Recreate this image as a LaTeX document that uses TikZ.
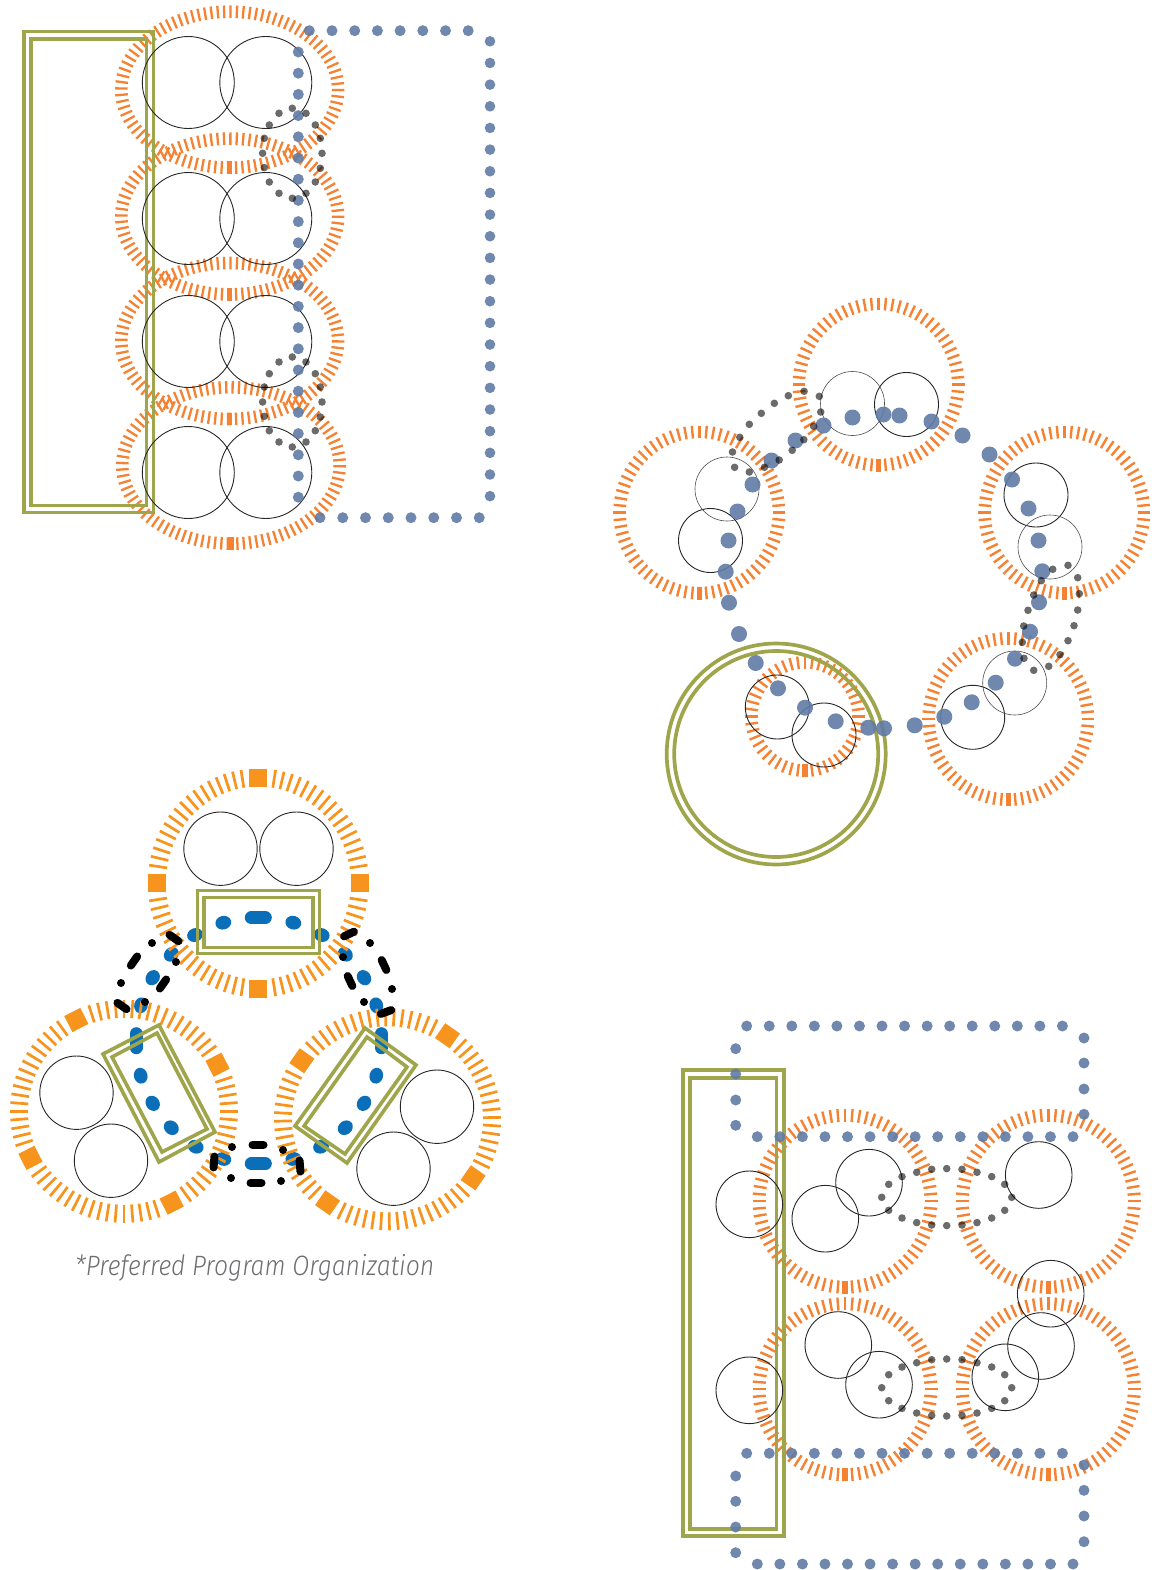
\documentclass[tikz,border=0pt]{standalone}
\usepackage{fontspec}
\usetikzlibrary{decorations.pathreplacing}
\newfontfamily\capfont[ItalicFont={Fira Sans Light Italic}]{Fira Sans Light}
\definecolor{ringor}{HTML}{F58233}
\definecolor{ringam}{HTML}{F7941E}
\definecolor{olive}{HTML}{9FA54A}
\definecolor{slate}{HTML}{607BA5}
\definecolor{bluedash}{HTML}{0A6FB8}
\definecolor{captiongray}{HTML}{6D6E71}
\tikzset{
  wire/.style={draw=black!85,line width=.9pt},
  lightwire/.style={draw=black!70,line width=.6pt},
  dbl/.style={draw=olive,line width=3.7pt},
  dblr/.style={draw=olive,line width=3.6pt,line join=miter},
  slatedot/.style={fill=slate,opacity=.9},
  graydot/.style={fill=black,opacity=.58},
  blackdash/.style={line width=8pt,line cap=round,draw=black},
  bluebar/.style={line width=13pt,line cap=round,draw=bluedash}
}
% circular tick ring: cx cy rx ry len n colour
\newcommand\ringC[7]{%
  \foreach \i in {1,...,#6}{%
    \pgfmathsetmacro\a{90+\i*(360/#6)}%
    \draw[#7,line width=2.4pt] ({#1+(#3-#5)*cos(\a)},{#2+(#4-#5)*sin(\a)}) -- ({#1+#3*cos(\a)},{#2+#4*sin(\a)});
  }%
  \draw[#7,line width=5.5pt] (#1,#2+#4-#5) -- (#1,#2+#4);
}
% elliptical ring, ticks evenly spaced along the curve
\newcommand\ringE[4]{%
  \draw[ringor,line width=2.3pt,shift={(#1,#2)},rotate=-90,decorate,decoration={ticks,segment length=6.39pt,amplitude=6.3pt}]
    (0,0) ellipse [x radius=#4pt-6.3pt,y radius=#3pt-6.3pt];
  \draw[ringor,line width=5.5pt] (#1,#2+#4-12.6) -- (#1,#2+#4);
}
% amber ring with four squares: cx cy rx ry offset
\newcommand\ringS[5]{%
  \foreach \i in {0,...,79}{%
    \pgfmathsetmacro\a{#5+\i*4.5}%
    \pgfmathtruncatemacro\m{mod(\i,20)}%
    \ifnum\m=0
      \draw[ringam,line width=18pt] ({#1+(#3-18)*cos(\a)},{#2+(#4-18)*sin(\a)}) -- ({#1+#3*cos(\a)},{#2+#4*sin(\a)});
    \else\ifnum\m=1 \else\ifnum\m=19 \else
      \draw[ringam,line width=2.7pt] ({#1+(#3-18)*cos(\a)},{#2+(#4-18)*sin(\a)}) -- ({#1+#3*cos(\a)},{#2+#4*sin(\a)});
    \fi\fi\fi
  }%
}
\newcommand\bdot[2]{\fill[black] (#1,#2) circle (4pt);}
\newcommand\bdash[3]{\draw[blackdash,shift={(#1,#2)},rotate=#3] (-5.5,0) -- (5.5,0);}
\newcommand\bluee[3]{\fill[bluedash,shift={(#1,#2)},rotate=#3] (0,0) ellipse [x radius=8pt,y radius=6.8pt];}
\newcommand\bluebarr[3]{\draw[bluebar,shift={(#1,#2)},rotate=#3] (-7,0) -- (7,0);}
\begin{document}
\begin{tikzpicture}[x=1pt,y=-1pt]
\useasboundingbox (0,0) rectangle (1151,1570);
%%%%%%%%%% PANEL 1
\ringE{229.7}{89.7}{114.7}{84.3}
\ringE{229.7}{216.5}{114.7}{84.2}
\ringE{229.7}{341}{114.7}{84.3}
\ringE{231}{465.5}{115}{84.5}
\draw[dblr] (23.7,31.7) rectangle (153.3,512.3);
\draw[dblr] (31,39.3) rectangle (146.3,505.3);
\foreach \y in {82.5,218.5,341.5,472.5}{
  \draw[wire] (188.3,\y) circle (46pt);
  \draw[wire] (265.8,\y) circle (46pt);
}
\foreach \i in {0,...,7} \fill[slatedot] ({309.3+22.7*\i},30.7) circle (5.5pt);
\foreach \i in {0,...,21} \fill[slatedot] (490,{41.3+21.66*\i}) circle (5.3pt);
\foreach \i in {0,...,7} \fill[slatedot] ({320+22.75*\i},517.7) circle (5.5pt);
\foreach \i in {0,...,21} \fill[slatedot] (298.3,{52+21.2*\i}) circle (5.5pt);
\foreach \cy in {153.3,402}{
  \foreach \dx/\dy in {-13.3/-40,0/-45,13.7/-40,23/-28.3,28/-15,29.7/0,28/15,23/28.7,13.7/40,0/45,-13.3/40,-23/28.7,-28/14.3,-29.7/0,-28/-15,-23/-28.3}
    \fill[graydot] ({292.3+\dx},{\cy+\dy}) circle (3.8pt);
}
%%%%%%%%%% PANEL 2
\ringC{878.5}{384.5}{86}{87}{12.7}{72}{ringor}
\ringC{1064.3}{512.5}{86}{87}{12.7}{72}{ringor}
\ringC{1008.3}{719}{86}{87}{12.7}{72}{ringor}
\ringC{699.3}{512.5}{86}{87}{12.7}{72}{ringor}
\ringC{805}{716.5}{60}{60.5}{12.7}{48}{ringor}
\draw[dbl] (776.2,754) ellipse [x radius=109.5pt,y radius=110.5pt];
\draw[dbl] (776.2,754) ellipse [x radius=102pt,y radius=103pt];
\foreach \x/\y in {906.5/404.5,710.5/540.5,1036/495,777.3/707,824/735,972.7/717.3}
  \draw[wire] (\x,\y) circle (32pt);
\foreach \x/\y in {852.5/403.5,727/489,1050/547,1014.7/683}
  \draw[lightwire] (\x,\y) circle (32pt);
\foreach \x/\y in {823.5/425.5,852.5/417.5,883.5/414.5,899.5/415.5,931.5/421.5,962.5/435.5,989.5/454.5,1012/479.5,1028.5/508.5,1038.5/540.5,1042.3/571.3,1039/602.3,1030/631.7,1015/658.7,995.7/682.7,971.7/702.3,944.3/716.7,914.7/725.3,884/728.3,868.3/727.7,835.7/721.3,805/707.7,778/688.3,755.7/663,739/634,729/602.7,725.7/571.7,728.5/540.5,737.5/511.5,752.5/484.5,771.5/460.5,795.5/440.5}
  \fill[slatedot] (\x,\y) circle (8pt);
\foreach \x/\y in {804.1/391.3,788.3/395.7,774.3/403.3,761.3/413.3,749.3/424.3,739.8/437.3,732.5/452,734.6/467.3,749.3/472,764.4/467.3,779.2/460,792.2/450.3,803.8/439.7,813.6/426.3,820.7/412,819.3/396.3,
 1052.7/569.3,1068/565.3,1077.7/577.7,1079.3/593.7,1077.7/610,1074/625.7,1068/640.7,1060/654.7,1048.7/666.3,1033.7/670.3,1024/658.3,1022.3/642.3,1023.7/626,1028/610.3,1033.7/595,1041.3/580.7}
  \fill[graydot] (\x,\y) circle (3.8pt);
%%%%%%%%%% PANEL 3
% blue dashes lie beneath the rings
\bluee{223.3}{922.7}{15}\bluebarr{258.3}{917.7}{0}\bluee{293.3}{922.7}{-15}
\bluee{195}{935}{20}\bluee{321.7}{935}{-20}
\bluee{171.3}{954.3}{40}\bluee{345.3}{954.3}{-40}
\bluee{152.7}{977.7}{55}\bluee{364}{977.7}{-55}
\bluee{141}{1005.3}{75}\bluee{376.3}{1005.3}{-75}
\bluebarr{136}{1040.7}{90}\bluebarr{381.3}{1040.7}{90}
\bluee{140.7}{1075.7}{-75}\bluee{376.3}{1075.7}{75}
\bluee{152.7}{1103.3}{-55}\bluee{364}{1103.3}{55}
\bluee{171.3}{1127.7}{-40}\bluee{345.3}{1127.7}{40}
\bluee{195.7}{1146.7}{-20}\bluee{321}{1146.7}{20}
\bluee{223.3}{1159}{-15}\bluee{293.3}{1159}{15}
\bluebarr{258.3}{1163.7}{0}
\ringS{258.3}{883}{110.5}{114.5}{0}
\ringS{124}{1111.3}{114}{111.5}{63}
\ringS{387.5}{1119.3}{113.5}{111}{35}
\draw[dblr] (197.5,890.5) rectangle (319.5,953.5);
\draw[dblr] (204,897.5) rectangle (313,947.5);
\draw[dblr] (159,1025) -- (103,1054) -- (159,1162) -- (215,1132) -- cycle;
\draw[dblr] (157,1033) -- (112,1057) -- (162,1152) -- (207,1129) -- cycle;
\draw[dblr] (365,1028) -- (416,1065) -- (347,1163) -- (295,1126) -- cycle;
\draw[dblr] (367,1037) -- (407,1067) -- (345,1154) -- (304,1126) -- cycle;
\bdash{174}{938}{-35}\bdot{152}{943}\bdot{176}{962}\bdash{134}{961}{55}
\bdash{163}{984}{55}\bdot{121}{983}\bdot{145}{1002}\bdash{122}{1006}{-35}
\bdash{349}{934}{25}\bdot{370}{943}\bdot{343}{957}\bdash{384}{965}{-65}
\bdash{350}{981}{-65}\bdot{392}{989}\bdot{364}{1002}\bdash{386}{1012}{20}
\bdot{232}{1147}\bdash{258}{1145}{0}\bdot{283}{1150}\bdash{214}{1162}{85}
\bdash{300}{1166}{-85}\bdot{231}{1178}\bdash{256}{1183}{0}\bdot{281}{1181}
\foreach \x/\y in {220.5/848.7,296.5/848.7,76.5/1092.7,111/1160.7,437/1106.7,393.5/1168.7}
  \draw[wire] (\x,\y) circle (36.7pt);
\node[font=\capfont\itshape\fontsize{28}{30}\selectfont,text=captiongray,anchor=base west,inner sep=0pt] (caption) at (75,1275.7) {\resizebox{359pt}{\height}{*Preferred Program Organization}};
%%%%%%%%%% PANEL 4
\ringC{845}{1201.2}{92.5}{92.5}{13}{76}{ringor}
\ringC{1048.3}{1201.2}{92.5}{92.5}{13}{76}{ringor}
\ringC{845}{1389.2}{92.5}{92}{13}{76}{ringor}
\ringC{1048.3}{1389.2}{92.5}{92}{13}{76}{ringor}
\draw[dblr] (683,1070) rectangle (784,1536);
\draw[dblr] (690,1078) rectangle (776.3,1529);
\foreach \x/\y in {749.3/1204.3,825.3/1218.7,869/1182.7,1038.7/1175,1050.7/1293.7,749.3/1390.3,838.3/1345,879/1384.7,1005.3/1377.3,1041/1346}
  \draw[wire] (\x,\y) circle (33.3pt);
\foreach \i in {0,...,14}{
  \fill[slatedot] ({746.7+22.55*\i},1026) circle (5.5pt);
  \fill[slatedot] ({757.3+22.55*\i},1136.7) circle (5.5pt);
  \fill[slatedot] ({746.7+22.55*\i},1453.3) circle (5.5pt);
  \fill[slatedot] ({757.3+22.55*\i},1564) circle (5.5pt);
}
\foreach \y in {1048.7,1074,1100,1125.3,1476,1501.3,1527,1552.7} \fill[slatedot] (735.7,\y) circle (5.5pt);
\foreach \y in {1038,1063,1089,1114.3,1465,1490.3,1516,1541.7} \fill[slatedot] (1084,\y) circle (5.5pt);
\foreach \cy in {1197.3,1387.7}{
  \foreach \dx/\dy in {-65/0,-58/-13,-44.7/-20.7,-30/-25,-15/-28,0/-28.7,15.3/-28,30.3/-25,45/-20.7,58/-13,65/0,58/13,45/20.7,30.3/25.3,15.3/27.7,0/28.3,-15/27.7,-30/25.3,-44.7/20.7,-58/13}
    \fill[graydot] ({946.7+\dx},{\cy+\dy}) circle (3.8pt);
}
\end{tikzpicture}
\end{document}
